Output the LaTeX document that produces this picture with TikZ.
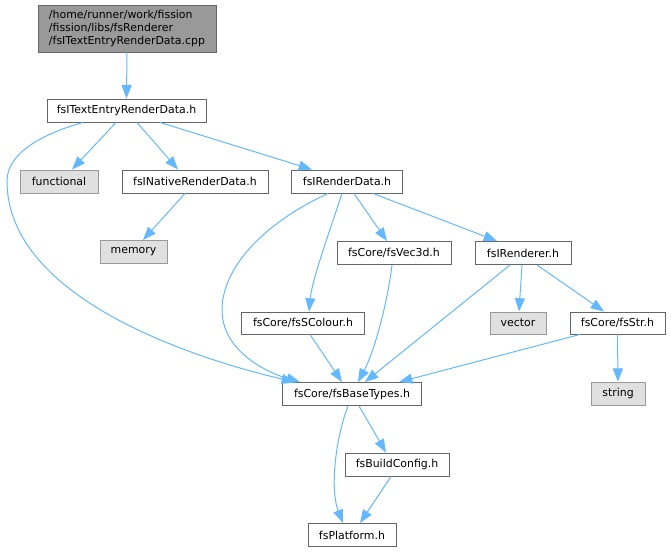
\documentclass[tikz,border=0pt]{standalone}
\usepackage{fontspec}
\setmainfont{DejaVu Sans}
\usetikzlibrary{arrows.meta,calc}
\definecolor{edgeblue}{HTML}{63B8FF}
\definecolor{boxline}{HTML}{666666}
\definecolor{extline}{HTML}{999999}
\definecolor{extfill}{HTML}{E0E0E0}
\definecolor{rootfill}{HTML}{999999}
\tikzset{
  filebox/.style={draw=boxline, fill=white, line width=0.7pt, inner sep=0pt,
    minimum height=17.25pt, font=\fontsize{8.2pt}{9.4pt}\selectfont},
  extbox/.style={filebox, draw=extline, fill=extfill},
  rootbox/.style={filebox, fill=rootfill, align=left},
  dep/.style={draw=edgeblue, line width=0.75pt,
    -{Triangle[length=10pt,width=7.5pt]}},
}
\begin{document}
\begin{tikzpicture}[x=0.75pt,y=-0.75pt]
\useasboundingbox (0,0) rectangle (671,552);
\node[rootbox, minimum width=133.5pt, minimum height=35.25pt] (root) at (127,28.5)
  {/home/runner/work/fission\\/fission/libs/fsRenderer\\/fsITextEntryRenderData.cpp};
\node[filebox, minimum width=119.25pt] (te) at (126.5,110.5) {fsITextEntryRenderData.h};
\node[extbox, minimum width=58.5pt] (fun) at (59,181.5) {functional};
\node[filebox, minimum width=109.5pt] (nat) at (195,181.5) {fsINativeRenderData.h};
\node[filebox, minimum width=83.25pt] (rd) at (347,181.5) {fsIRenderData.h};
\node[extbox, minimum width=50.25pt] (mem) at (133.5,252) {memory};
\node[filebox, minimum width=85.5pt] (vec) at (394,253) {fsCore/fsVec3d.h};
\node[filebox, minimum width=72pt] (ren) at (523,253) {fsIRenderer.h};
\node[filebox, minimum width=92.25pt, minimum height=16.5pt] (col) at (303,323) {fsCore/fsSColour.h};
\node[extbox, minimum width=42pt, minimum height=16.5pt] (vect) at (518,323) {vector};
\node[filebox, minimum width=71.25pt, minimum height=16.5pt] (str) at (617.5,323) {fsCore/fsStr.h};
\node[extbox, minimum width=40.5pt] (strg) at (618,393.7) {string};
\node[filebox, minimum width=104.25pt] (bt) at (352,394) {fsCore/fsBaseTypes.h};
\node[filebox, minimum width=78pt] (bc) at (397,464.5) {fsBuildConfig.h};
\node[filebox, minimum width=66pt] (pl) at (352,535) {fsPlatform.h};

% edges
\draw[dep] (root.south) -- (te.north);
\draw[dep] ($(te.south)+(-10.5,0)$) -- ($(fun.north)+(13,0)$);
\draw[dep] ($(te.south)+(10.5,0)$) -- ($(nat.north)+(-17,0)$);
\draw[dep] ($(te.south)+(33.5,0)$) -- ($(rd.north)+(-35,0)$);
\draw[dep] ($(te.south)+(-43.5,0)$) .. controls (45,133) and (7,152) .. (7,181)
   .. controls (7,300) and (200,360) .. ($(bt.north)+(-57,0)$);
\draw[dep] ($(nat.south)+(-10,0)$) -- ($(mem.north)+(9.5,0)$);
\draw[dep] ($(rd.south)+(-19,0)$) .. controls (260,225) and (222,270) .. (222,310)
   .. controls (222,350) and (265,372) .. ($(bt.north)+(-52,0)$);
\draw[dep] ($(rd.south)+(-5,0)$) .. controls (330,230) and (312,280) .. ($(col.north)+(6,0)$);
\draw[dep] ($(rd.south)+(7,0)$) -- ($(vec.north)+(-7,0)$);
\draw[dep] ($(rd.south)+(26,0)$) -- ($(ren.north)+(-26,0)$);
\draw[dep] ($(vec.south)+(-2,0)$) .. controls (388,300) and (375,350) .. ($(bt.north)+(6,0)$);
\draw[dep] ($(col.south)+(7,0)$) -- ($(bt.north)+(-10,0)$);
\draw[dep] ($(ren.south)+(-13,0)$) -- ($(bt.north)+(13,0)$);
\draw[dep] ($(ren.south)+(-1,0)$) -- ($(vect.north)+(1,0)$);
\draw[dep] ($(ren.south)+(14,0)$) -- ($(str.north)+(-13.5,0)$);
\draw[dep] ($(str.south)+(-37.5,0)$) -- ($(bt.north)+(47,0)$);
\draw[dep] (str.south) -- (strg.north);
\draw[dep] ($(bt.south)+(-4,0)$) .. controls (335,440) and (330,490) .. ($(pl.north)+(-9,0)$);
\draw[dep] ($(bt.south)+(7,0)$) -- ($(bc.north)+(-11,0)$);
\draw[dep] ($(bc.south)+(-6,0)$) -- ($(pl.north)+(8,0)$);
\end{tikzpicture}
\end{document}
